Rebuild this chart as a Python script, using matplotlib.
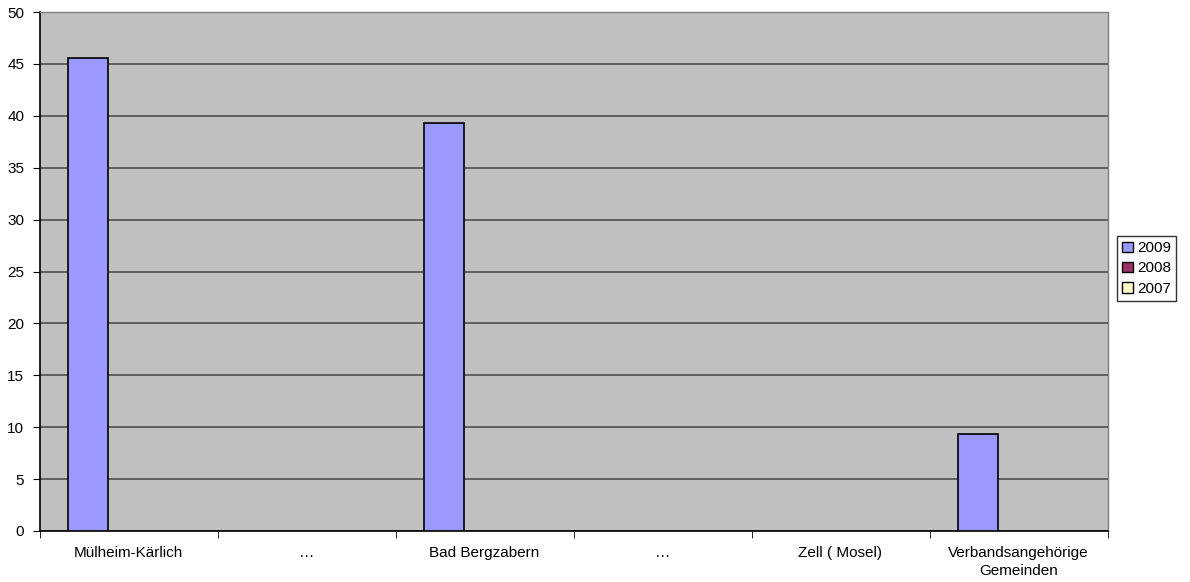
import matplotlib
matplotlib.use("Agg")
import matplotlib.pyplot as plt
import numpy as np
from matplotlib.patches import Patch

plt.rcParams['font.family'] = ['Liberation Sans', 'DejaVu Sans']

categories = ["Mülheim-Kärlich", "…", "Bad Bergzabern", "…", "Zell ( Mosel)", "Verbandsangehörige\nGemeinden"]
v2009 = [45.6, np.nan, 39.35, np.nan, np.nan, 9.35]
v2008 = [np.nan] * 6
v2007 = [np.nan] * 6
series_names = ["2009", "2008", "2007"]
colors = ["#9999FF", "#993366", "#FFFFCC"]

fig = plt.figure(figsize=(11.9, 5.82), dpi=100)
ax = fig.add_axes([39.5/1190, 1 - 531/582, (1107.5 - 39.5)/1190, (531 - 12)/582])
ax.set_facecolor("#C0C0C0")

x = np.arange(len(categories))
w = 0.225
for i, (vals, c) in enumerate(zip([v2009, v2008, v2007], colors)):
    ax.bar(x + (i - 1) * w, vals, width=w, color=c, edgecolor="black", linewidth=1.2, zorder=3)

ax.set_xlim(-0.5, len(categories) - 0.5)
ax.set_ylim(0, 50)
ax.set_yticks(np.arange(0, 51, 5))
ax.yaxis.grid(True, color="#505050", linewidth=1.2, zorder=1)
ax.set_axisbelow(True)

ax.set_xticks(x)
ax.set_xticklabels(categories, fontsize=11, linespacing=1.35)
ax.tick_params(axis='x', length=0, pad=11)
ax.set_xticks(np.arange(-0.5, len(categories), 1), minor=True)
ax.tick_params(axis='x', which='minor', length=5, direction='out', color='black')
ax.tick_params(axis='y', length=5, direction='out', labelsize=11, pad=6)

for s in ['top', 'right']:
    ax.spines[s].set_color("#808080")
    ax.spines[s].set_linewidth(1)
for s in ['left', 'bottom']:
    ax.spines[s].set_color("black")
    ax.spines[s].set_linewidth(1.2)

handles = [Patch(facecolor=c, edgecolor="black", linewidth=1) for c in colors]
leg = fig.legend(handles, series_names, loc='upper left', bbox_to_anchor=(1117/1190, 1 - 236/582),
                 frameon=True, fancybox=False, edgecolor="black", fontsize=11,
                 handlelength=0.7, handleheight=0.7, handletextpad=0.25, borderpad=0.35,
                 labelspacing=0.4, borderaxespad=0)
leg.get_frame().set_linewidth(1)

fig.savefig("out.png", dpi=100, facecolor="white")
